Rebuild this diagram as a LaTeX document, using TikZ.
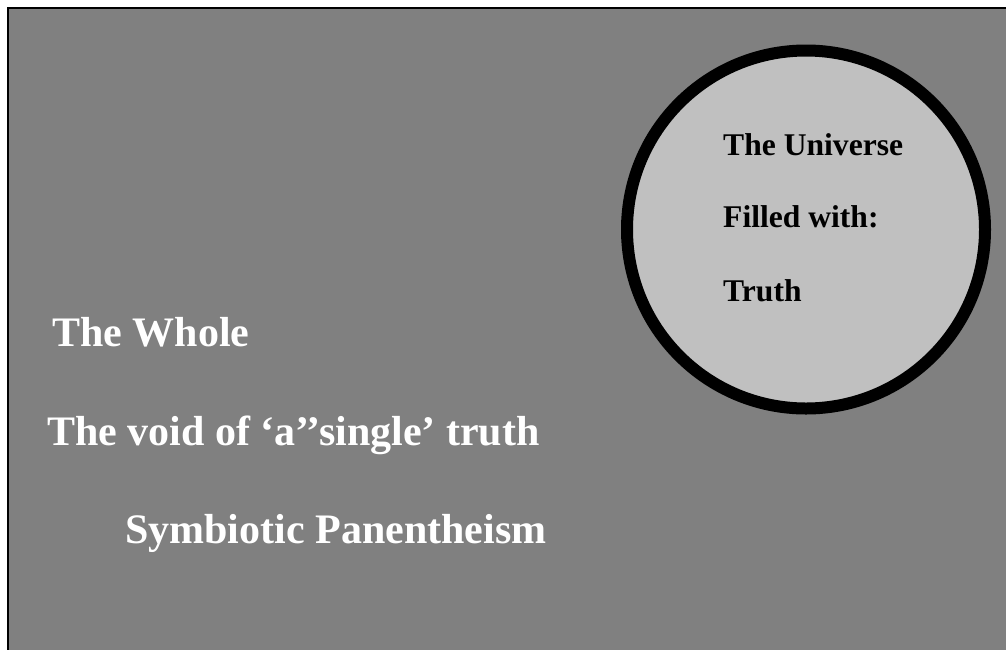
\documentclass[tikz,border=0pt]{standalone}
\usepackage{fontspec}
\setmainfont{Liberation Serif}
\definecolor{wholegray}{RGB}{128,128,128}
\definecolor{universegray}{RGB}{192,192,192}
\tikzstyle{wholetext}=[white, font=\fontsize{42}{50}\selectfont\bfseries, anchor=base west, inner sep=0pt]
\tikzstyle{universetext}=[black, font=\fontsize{31.6}{38}\selectfont\bfseries, anchor=base west, inner sep=0pt]
\tikzstyle{universe}=[fill=universegray, draw=black, line width=12pt]

\begin{document}
\begin{tikzpicture}[x=1pt, y=-1pt]
				\useasboundingbox (0,0) rectangle (1006,649);
				\clip (0,0) rectangle (1006,649);

				\coordinate (tl) at (8,8);
				\coordinate (tr) at (1030,8);
				\coordinate (bl) at (8,670);
				\coordinate (br) at (1030,670);
				\coordinate (centre) at (806,229.5);

				\fill[wholegray] (tl) rectangle (br);
				\draw[line width=2.5pt] (tr) -- (tl) -- (bl);

				\draw[universe] (centre) circle [radius=179];

				\node[universetext] (universe) at (723,155) {The Universe};
				\node[universetext] (filled) at (723,227) {Filled with:};
				\node[universetext] (truth) at (723,301) {Truth};

				\node[wholetext] (whole) at (52,346) {The Whole};
				\node[wholetext] (void) at (47,445) {The void of ‘a’’single’ truth};
				\node[wholetext] (panentheism) at (125,543) {Symbiotic Panentheism};
			\end{tikzpicture}
\end{document}
